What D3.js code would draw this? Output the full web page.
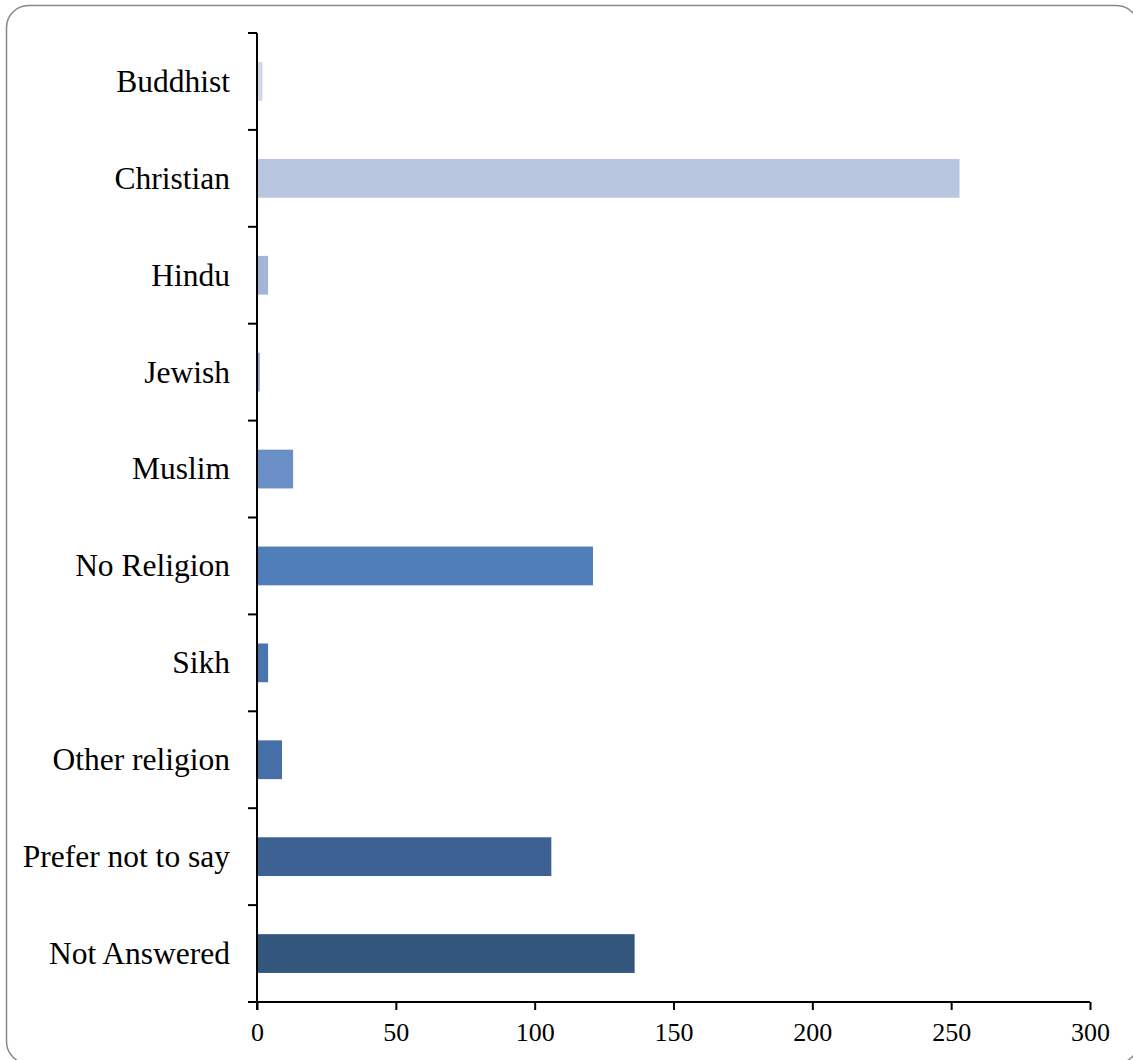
<!DOCTYPE html>
<html>
<head>
<meta charset="utf-8">
<script src="https://cdn.jsdelivr.net/npm/d3@7"></script>
<style>
html,body{margin:0;padding:0;background:#fff;}
svg{display:block;}
</style>
</head>
<body>
<script>
const categories = ["Buddhist","Christian","Hindu","Jewish","Muslim","No Religion","Sikh","Other religion","Prefer not to say","Not Answered"];
const values = [2,253,4,1,13,121,4,9,106,136];
const colors = ["#d0d9e8","#b9c6df","#a2b5d6","#8ba3cd","#6a8fc6","#4f7eb9","#4a76b0","#456fa6","#3d6192","#33567c"];
const xTicks = [0,50,100,150,200,250,300];

(function(){
const W = 1133, H = 1060;
const svg = d3.select("body").append("svg").attr("width", W).attr("height", H);

svg.append("rect").attr("x",6.5).attr("y",5.5).attr("width",1132).attr("height",1058)
  .attr("rx",22).attr("fill","#fff").attr("stroke","#868686").attr("stroke-width",1.5);

const pl = 257, pr = 1090, pt = 33, pb = 1002;
const x = d3.scaleLinear().domain([0,300]).range([pl,pr]);
const y = d3.scaleBand().domain(categories).range([pt,pb]).paddingInner(0.6).paddingOuter(0.3);

const font = "'Liberation Serif', serif";

svg.append("g").selectAll("rect").data(categories).join("rect")
  .attr("x", x(0)).attr("y", d => y(d))
  .attr("width", (d,i) => x(values[i]) - x(0))
  .attr("height", y.bandwidth())
  .attr("fill", (d,i) => colors[i]);

// Y axis
const yg = svg.append("g");
yg.append("line").attr("x1",pl).attr("x2",pl).attr("y1",pt).attr("y2",pb+8).attr("stroke","#000").attr("stroke-width",2);
const step = (pb-pt)/categories.length;
const yTickPos = d3.range(categories.length+1).map(i => pt + i*step);
yg.selectAll("line.t").data(yTickPos).join("line").attr("class","t")
  .attr("x1",pl-9).attr("x2",pl).attr("y1",d=>d).attr("y2",d=>d)
  .attr("stroke","#000").attr("stroke-width",2);
yg.selectAll("text").data(categories).join("text")
  .attr("x", pl-27).attr("y", d => y(d)+y.bandwidth()/2)
  .attr("dy","0.33em").attr("text-anchor","end")
  .attr("font-family",font).attr("font-size",31.5).attr("fill","#000")
  .text(d=>d);

// X axis
const xg = svg.append("g").attr("transform",`translate(0,${pb})`);
const xa = d3.axisBottom(x).tickValues(xTicks).tickSize(8).tickSizeOuter(0).tickFormat(d3.format("d"));
xg.call(xa);
xg.attr("font-size",null).attr("font-family",null);
xg.select(".domain").attr("stroke","#000").attr("stroke-width",2).attr("d",`M${pl-9},0H${pr}`);
xg.selectAll(".tick line").attr("stroke","#000").attr("stroke-width",2);
xg.selectAll(".tick text").attr("font-family",font).attr("font-size",26).attr("fill","#000").attr("y",21).attr("dy","0.71em");
})();
</script>
</body>
</html>
